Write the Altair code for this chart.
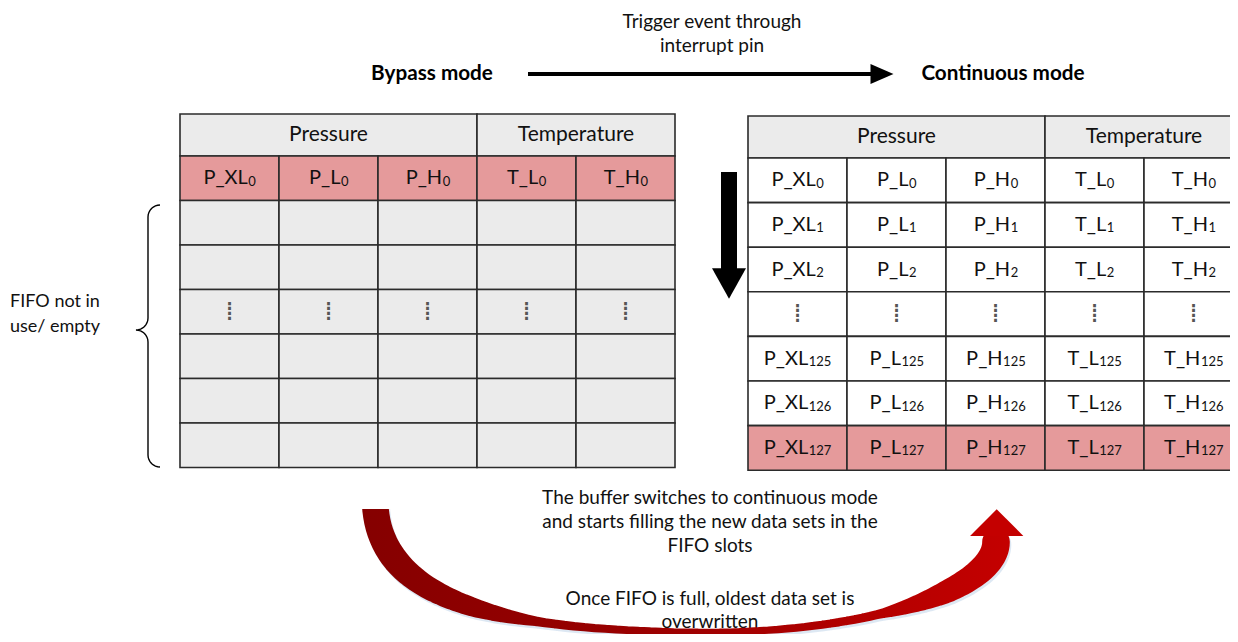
import math
import altair as alt
import pandas as pd

# ---------------- content ----------------
col_labels = ["P_XL", "P_L", "P_H", "T_L", "T_H"]
group_labels = ["Pressure", "Temperature"]
group_spans = [3, 2]
left_row_index = ["0", "", "", "⋮", "", "", ""]
left_row_state = ["new", "empty", "empty", "empty", "empty", "empty", "empty"]
right_row_index = ["0", "1", "2", "⋮", "125", "126", "127"]
right_row_state = ["filled", "filled", "filled", "filled", "filled", "filled", "new"]
mode_labels = ["Bypass mode", "Continuous mode"]
trigger_text = ["Trigger event through", "interrupt pin"]
brace_text = ["FIFO not in", "use/ empty"]
buffer_text = ["The buffer switches to continuous mode",
               "and starts filling the new data sets in the",
               "FIFO slots"]
overwrite_text = ["Once FIFO is full, oldest data set is", "overwritten"]

# ---------------- styling / layout ----------------
FONT = "Lato"
INK = "#111111"
FILLS = {"header": "#EBEBEB", "empty": "#EBEBEB", "new": "#E59A9B", "filled": "#FFFFFF"}
LEFT = dict(x0=180, y0=114, cw=99, hh=42, rh=44.5)
RIGHT = dict(x0=748, y0=116, cw=99, hh=42, rh=44.6)
MAIN_FS, SUB_FS, HEAD_FS = 20, 13, 21
# approximate advance widths (em) used only to centre label + subscript pairs
EM = {"P": 0.60, "T": 0.58, "_": 0.50, "X": 0.63, "L": 0.48, "H": 0.74}
DIGIT_EM = 0.58

xs = alt.Scale(domain=[8, 1230], nice=False, zero=False)
ys = alt.Scale(domain=[8, 634], nice=False, zero=False, reverse=True)


def X(f):
    return alt.X(f, type="quantitative", scale=xs, axis=None)


def Y(f):
    return alt.Y(f, type="quantitative", scale=ys, axis=None)


def table(lay, idx, states):
    cells, heads, mains, subs, dots = [], [], [], [], []
    c = 0
    for g, span in zip(group_labels, group_spans):
        x0 = lay["x0"] + c * lay["cw"]
        x1 = x0 + span * lay["cw"]
        cells.append(dict(x0=x0, x1=x1, y0=lay["y0"], y1=lay["y0"] + lay["hh"], fill=FILLS["header"]))
        heads.append(dict(x=(x0 + x1) / 2, y=lay["y0"] + lay["hh"] / 2, t=g))
        c += span
    for r, (ix, st) in enumerate(zip(idx, states)):
        y0 = lay["y0"] + lay["hh"] + r * lay["rh"]
        cy = y0 + lay["rh"] / 2
        for ci, lab in enumerate(col_labels):
            x0 = lay["x0"] + ci * lay["cw"]
            cx = x0 + lay["cw"] / 2
            cells.append(dict(x0=x0, x1=x0 + lay["cw"], y0=y0, y1=y0 + lay["rh"], fill=FILLS[st]))
            if ix == "⋮":
                dots.append(dict(x=cx, y=cy, t="⁞"))
            elif ix:
                wm = sum(EM[ch] for ch in lab) * MAIN_FS
                ws = len(ix) * DIGIT_EM * SUB_FS
                split = cx - (wm + ws) / 2 + wm
                mains.append(dict(x=split, y=cy + 6, t=lab))
                subs.append(dict(x=split + 0.5, y=cy + 7.5, t=ix))
    return cells, heads, mains, subs, dots


parts = [table(LEFT, left_row_index, left_row_state), table(RIGHT, right_row_index, right_row_state)]
cells = pd.DataFrame(parts[0][0] + parts[1][0])
heads = pd.DataFrame(parts[0][1] + parts[1][1])
mains = pd.DataFrame(parts[0][2] + parts[1][2])
subs = pd.DataFrame(parts[0][3] + parts[1][3])
dots = pd.DataFrame(parts[0][4] + parts[1][4])

rects = alt.Chart(cells).mark_rect(stroke="#2b2b2b", strokeWidth=1.6, clip=True).encode(
    x=X("x0"), x2="x1", y=Y("y0"), y2="y1", fill=alt.Fill("fill:N", scale=None))
head_text = alt.Chart(heads).mark_text(font=FONT, fontSize=HEAD_FS, color=INK,
                                       baseline="middle", clip=True).encode(
    x=X("x"), y=Y("y"), text="t:N")
main_text = alt.Chart(mains).mark_text(font=FONT, fontSize=MAIN_FS, color=INK, align="right",
                                       baseline="alphabetic", clip=True).encode(
    x=X("x"), y=Y("y"), text="t:N")
sub_text = alt.Chart(subs).mark_text(font=FONT, fontSize=SUB_FS, color=INK, align="left",
                                     baseline="alphabetic", clip=True).encode(
    x=X("x"), y=Y("y"), text="t:N")
dot_text = alt.Chart(dots).mark_text(font="DejaVu Sans", fontSize=27, color="#555555",
                                     baseline="middle", clip=True).encode(
    x=X("x"), y=Y("y"), text="t:N")

# titles and annotations
ann = pd.DataFrame([dict(x=432, y=74, t=mode_labels[0]), dict(x=1003, y=74, t=mode_labels[1])])
titles = alt.Chart(ann).mark_text(font=FONT, fontSize=20.7, fontWeight="bold", color="#000000",
                                  baseline="middle").encode(x=X("x"), y=Y("y"), text="t:N")

notes, bnotes = [], []
for i, s in enumerate(trigger_text):
    notes.append(dict(x=712, y=22 + i * 24, t=s))
for i, s in enumerate(buffer_text):
    notes.append(dict(x=710, y=498 + i * 24, t=s))
for i, s in enumerate(overwrite_text):
    notes.append(dict(x=710, y=599 + i * 23, t=s))
for i, s in enumerate(brace_text):
    bnotes.append(dict(x=55, y=302 + i * 25, t=s))
note_text = alt.Chart(pd.DataFrame(notes)).mark_text(font=FONT, fontSize=19, color=INK,
                                                    baseline="middle").encode(
    x=X("x"), y=Y("y"), text="t:N")
brace_note = alt.Chart(pd.DataFrame(bnotes)).mark_text(font=FONT, fontSize=18, color=INK,
                                                      baseline="middle").encode(
    x=X("x"), y=Y("y"), text="t:N")

# horizontal arrow (top)
harrow = alt.Chart(pd.DataFrame([dict(x0=528, x1=872, y=74)])).mark_rule(
    color="#000000", strokeWidth=4).encode(x=X("x0"), x2="x1", y=Y("y"))
hhead = alt.Chart(pd.DataFrame([dict(x=882, y=74)])).mark_point(
    shape="M-1,-0.87L1,0L-1,0.87Z", size=529, filled=True, color="#000000", opacity=1).encode(
    x=X("x"), y=Y("y"))

# vertical arrow (down)
varrow = alt.Chart(pd.DataFrame([dict(x=729, y0=172, y1=270)])).mark_rule(
    color="#000000", strokeWidth=16, strokeCap="butt").encode(x=X("x"), y=Y("y0"), y2="y1")
vhead = alt.Chart(pd.DataFrame([dict(x=729, y=283.5)])).mark_point(
    shape="M-1,-0.9L1,-0.9L0,0.9Z", size=1156, filled=True, color="#000000", opacity=1).encode(
    x=X("x"), y=Y("y"))

# curly brace
bx, btop, bbot, bmid = 160, 205, 467, 330
rad = 12


def arc(cx, cy, a0, a1, n=8):
    out = []
    for k in range(n + 1):
        a = math.radians(a0 + (a1 - a0) * k / n)
        out.append((cx + rad * math.cos(a), cy + rad * math.sin(a)))
    return out


pts = (arc(bx, btop + rad, -90, -180) + arc(bx - 2 * rad, bmid - rad, 0, 90)
       + arc(bx - 2 * rad, bmid + rad, -90, 0) + arc(bx, bbot - rad, 180, 90))
brace = pd.DataFrame([dict(x=p[0], y=p[1], i=k) for k, p in enumerate(pts)])
brace_line = alt.Chart(brace).mark_line(color="#000000", strokeWidth=1.4).encode(
    x=X("x"), y=Y("y"), order="i:Q")

# curved red arrow (two cubic pieces, tapering thickness)
SEGS = [[(375, 498), (375, 602), (500, 632), (710, 632)],
        [(710, 632), (880, 632), (996, 586), (996, 542)]]
TH = [(360, 27), (395, 26), (473, 19), (540, 9), (710, 6.5), (880, 9), (947, 23), (1000, 28)]


def thick(x):
    for (xa, wa), (xb, wb) in zip(TH, TH[1:]):
        if xa <= x <= xb:
            return wa + (wb - wa) * (x - xa) / (xb - xa)
    return TH[-1][1]


tr = []
k = 0
for seg in SEGS:
    N = 50
    for j in range(N + 1):
        t = j / N
        u = 1 - t
        x = u**3 * seg[0][0] + 3 * u * u * t * seg[1][0] + 3 * u * t * t * seg[2][0] + t**3 * seg[3][0]
        y = u**3 * seg[0][1] + 3 * u * u * t * seg[1][1] + 3 * u * t * t * seg[2][1] + t**3 * seg[3][1]
        tr.append(dict(x=x, y=y, w=thick(x), i=k))
        k += 1
trdf = pd.DataFrame(tr)
shadow = pd.DataFrame([dict(x=r["x"] + 1.5, y=r["y"] + 2.5, w=r["w"], i=r["i"]) for r in tr])
grad = alt.Gradient(gradient="linear",
                    stops=[alt.GradientStop(color="#850000", offset=0),
                           alt.GradientStop(color="#9E0000", offset=0.5),
                           alt.GradientStop(color="#C40000", offset=1)],
                    x1=0, x2=1, y1=0, y2=0)
trail_shadow = alt.Chart(shadow).mark_trail(color="#D5E2F0", opacity=0.8, clip=True).encode(
    x=X("x"), y=Y("y"), size=alt.Size("w:Q", scale=None, legend=None), order="i:Q")
trail = alt.Chart(trdf).mark_trail(color=grad, clip=True).encode(
    x=X("x"), y=Y("y"), size=alt.Size("w:Q", scale=None, legend=None), order="i:Q")
mask = alt.Chart(pd.DataFrame([dict(x0=340, x1=410, y0=470, y1=509)])).mark_rect(
    color="#FFFFFF").encode(x=X("x0"), x2="x1", y=Y("y0"), y2="y1")
rhead = alt.Chart(pd.DataFrame([dict(x=996.7, y=522.6)])).mark_point(
    shape="M-1,0.5L1,0.5L0,-0.5Z", size=2841, filled=True, color="#C40000", opacity=1).encode(
    x=X("x"), y=Y("y"))

chart = alt.layer(
    rects, head_text, main_text, sub_text, dot_text, titles, note_text, brace_note,
    harrow, hhead, varrow, vhead, brace_line, trail_shadow, trail, mask, rhead
).properties(width=1222, height=626, padding=0, autosize="none").configure_view(strokeWidth=0)

chart.save("out.html", embed_options={"renderer": "svg", "actions": False})
